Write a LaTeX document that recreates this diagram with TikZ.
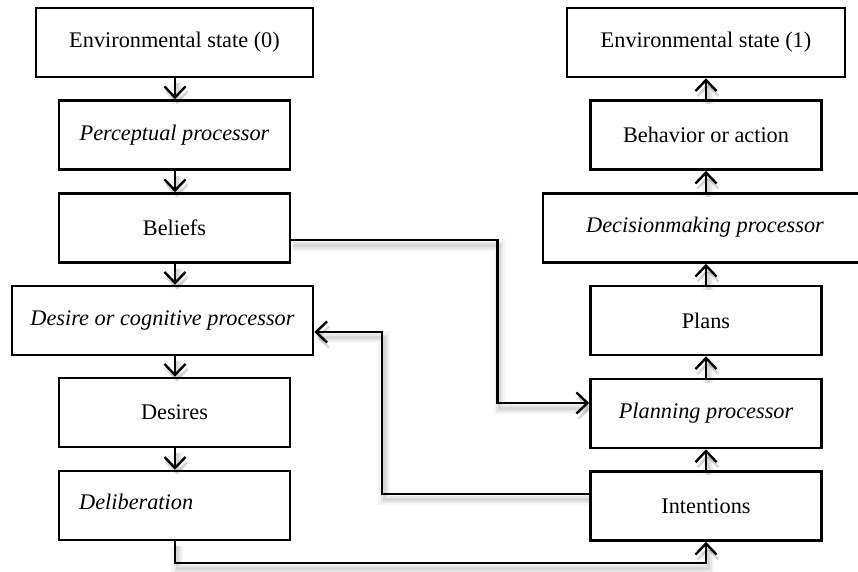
\documentclass[tikz,border=0pt]{standalone}
\usepackage{fontspec}
\setmainfont{Liberation Serif}
\usetikzlibrary{arrows.meta}
\begin{document}
\begin{tikzpicture}[x=1pt,y=-1pt,
  font=\fontsize{22.3}{27}\selectfont,
  box/.style={draw, line width=2.6pt, fill=white, inner sep=0pt,
    minimum width=#1, minimum height=69pt},
  box/.default=231pt,
  label/.style={inner sep=0pt},
  flow/.style={line width=2.3pt, -{Straight Barb[length=11pt,width=21pt,line width=2.4pt]},
    preaction={draw=black, opacity=0.04, line width=12pt, transform canvas={shift={(2pt,-5pt)}}},
    preaction={draw=black, opacity=0.06, line width=7pt, transform canvas={shift={(2pt,-5pt)}}},
    preaction={draw=black, opacity=0.07, line width=3pt, transform canvas={shift={(2pt,-5pt)}}}},
]
\useasboundingbox (0,0) rectangle (858,571);

% left column
\node[box=277pt] (e0)  at (174.5,42.5) {Environmental state (0)};
\node[box]       (pp)  at (174.5,135)  {\itshape Perceptual processor};
\node[box]       (bel) at (174.5,228)  {Beliefs};
\node[box=301pt] (dcp) at (162.5,320.5) {\itshape Desire or cognitive processor};
\node[box]       (des) at (174.5,412.5) {Desires};
\node[box]       (del) at (174.5,505.5) {};
\node[label, anchor=west] (deltxt) at (79,502) {\itshape Deliberation};

% right column
\node[box=278pt] (e1)  at (706,42.5)  {Environmental state (1)};
\node[box]       (beh) at (706,135)   {Behavior or action};
\node[box=326pt] (dmp) at (706,228)   {};
\node[label]     (dmptxt) at (705,227) {\itshape Decisionmaking processor};
\node[box]       (pln) at (706,320.5) {Plans};
\node[box]       (plp) at (706,413.5) {\itshape Planning processor};
\node[box]       (int) at (706,506)   {Intentions};

% vertical flow, left side (downwards)
\draw[flow] (e0.south -| 175,0) -- (pp.north -| 175,0);
\draw[flow] (pp.south -| 175,0) -- (bel.north -| 175,0);
\draw[flow] (bel.south -| 175,0) -- (dcp.north -| 175,0);
\draw[flow] (dcp.south -| 175,0) -- (des.north -| 175,0);
\draw[flow] (des.south -| 175,0) -- (del.north -| 175,0);

% vertical flow, right side (upwards)
\draw[flow] (int.north) -- (plp.south);
\draw[flow] (plp.north) -- (pln.south);
\draw[flow] (pln.north) -- (dmp.south);
\draw[flow] (dmp.north) -- (beh.south);
\draw[flow] (beh.north) -- (e1.south);

% cross connections
\coordinate (b1) at (497.5,240);
\coordinate (i1) at (382,494);
\coordinate (d1) at (175,563);
\draw[flow] (bel.east |- b1) -- (b1) |- (plp.west |- 0,403);
\draw[flow] (int.west |- i1) -- (i1) |- (dcp.east |- 0,332);
\draw[flow] (del.south -| d1) -- (d1) -| (int.south);
\end{tikzpicture}
\end{document}
